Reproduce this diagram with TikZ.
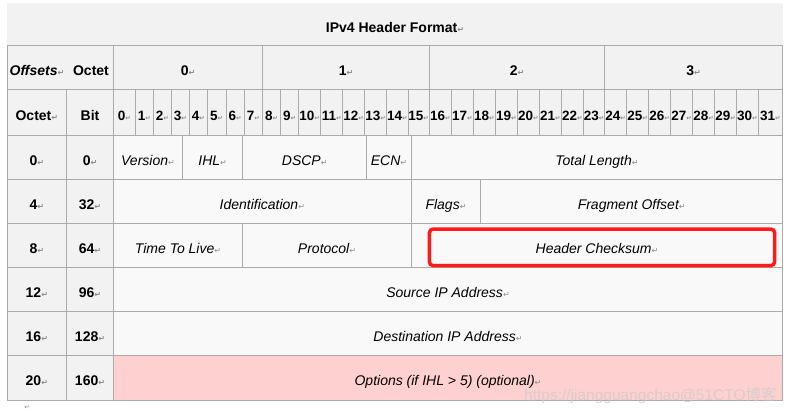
\documentclass[tikz,border=0pt]{standalone}
\usepackage{fontspec}
\setmainfont{Liberation Sans}
\newfontfamily\dvs{DejaVu Sans}
\newfontfamily\cjkf{Noto Sans CJK SC}
\definecolor{hdrgray}{HTML}{F2F2F2}
\definecolor{cellbg}{HTML}{F9F9F9}
\definecolor{bordergray}{HTML}{ABABAB}
\definecolor{optpink}{HTML}{FFD0D0}
\definecolor{retgray}{HTML}{8A8A8A}
\definecolor{hlred}{HTML}{FF1A1A}
\newcommand\rtn{{\dvs\fontsize{8}{8}\selectfont\color{retgray}↵}}
\newcommand\srtn{{\dvs\fontsize{6.5}{6.5}\selectfont\color{retgray}↵}}
\tikzset{
  hdrcell/.style={fill=hdrgray, draw=bordergray, line width=1pt},
  datcell/.style={fill=cellbg, draw=bordergray, line width=1pt},
  optcell/.style={fill=optpink, draw=bordergray, line width=1pt},
  txt/.style={anchor=base, inner sep=0pt, font=\fontsize{14}{16}\selectfont},
  htxt/.style={txt, font=\fontsize{14}{16}\selectfont\bfseries},
  btxt/.style={txt, font=\fontsize{13.5}{16}\selectfont\bfseries},
  itxt/.style={txt, font=\fontsize{14}{16}\selectfont\itshape},
  hilite/.style={draw=hlred, line width=3.5pt, rounded corners=4pt}
}
% #1 name, #2 x1, #3 y1, #4 x2, #5 y2, #6 cell style, #7 text style, #8 text
\newcommand\fcell[8]{%
  \draw[#6] (#2,#3) rectangle (#4,#5);
  \node[#7] (#1) at ({(#2+#4)/2},{(#3+#5)/2+8}) {#8};}
\begin{document}
\begin{tikzpicture}[x=1pt,y=-1pt]
\useasboundingbox (0,0) rectangle (796,412);
\fill[white] (0,0) rectangle (796,412);
% title
\fill[hdrgray] (7,3) rectangle (782.7,46);
\node[htxt] (title) at (395,32.5) {IPv4 Header Format\rtn};
% octet header row
\draw[hdrcell] (7,46) rectangle (113.3,90);
\node[txt, font=\fontsize{14}{16}\selectfont\bfseries\itshape] (offs) at (37,75.7) {Offsets\rtn};
\node[htxt] (octA) at (91,75.7) {Octet};
\fcell{oc0}{113.3}{46}{262.7}{90}{hdrcell}{htxt}{0\rtn}
\fcell{oc1}{262.7}{46}{429.3}{90}{hdrcell}{htxt}{1\rtn}
\fcell{oc2}{429.3}{46}{604.7}{90}{hdrcell}{htxt}{2\rtn}
\fcell{oc3}{604.7}{46}{782.7}{90}{hdrcell}{htxt}{3\rtn}
% bit row
\fcell{octB}{7}{90}{66.7}{135}{hdrcell}{htxt}{Octet\rtn}
\fcell{bitH}{66.7}{90}{113.3}{135}{hdrcell}{htxt}{Bit}
\foreach \n/\a/\b in {0/113.3/135.3,1/135.3/153.3,2/153.3/171.3,3/171.3/189.3,
  4/189.3/207.3,5/207.3/226,6/226/244,7/244/262.7,8/262.7/280.7,9/280.7/298.7,
  10/298.7/320.7,11/320.7/342.7,12/342.7/364.7,13/364.7/386.7,14/386.7/408,
  15/408/429.3,16/429.3/451.3,17/451.3/473.3,18/473.3/495.3,19/495.3/517.3,
  20/517.3/539.3,21/539.3/561.3,22/561.3/583.3,23/583.3/604.7,24/604.7/626.7,
  25/626.7/648.7,26/648.7/670.7,27/670.7/692.7,28/692.7/714.7,29/714.7/736.7,
  30/736.7/758,31/758/782.7}{
  \fcell{bit\n}{\a}{90}{\b}{135}{hdrcell}{btxt}{\n\srtn}
}
% row offsets
\foreach \o/\bb/\t/\u [count=\k] in {0/0/135/179,4/32/179/223,8/64/223/267,
  12/96/267/311,16/128/311/355,20/160/355/400}{
  \fcell{ro\k}{7}{\t}{66.7}{\u}{hdrcell}{htxt}{\o\rtn}
  \fcell{rb\k}{66.7}{\t}{113.3}{\u}{hdrcell}{htxt}{\bb\rtn}
}
% row 0
\fcell{version}{113.3}{135}{182.7}{179}{datcell}{itxt}{Version\rtn}
\fcell{ihl}{182.7}{135}{242.7}{179}{datcell}{itxt}{IHL\rtn}
\fcell{dscp}{242.7}{135}{366.7}{179}{datcell}{itxt}{DSCP\rtn}
\fcell{ecn}{366.7}{135}{411.3}{179}{datcell}{itxt}{ECN\rtn}
\fcell{totlen}{411.3}{135}{782.7}{179}{datcell}{itxt}{Total Length\rtn}
% row 4
\fcell{ident}{113.3}{179}{411.3}{223}{datcell}{itxt}{Identification\rtn}
\fcell{flags}{411.3}{179}{480.7}{223}{datcell}{itxt}{Flags\rtn}
\fcell{fragoff}{480.7}{179}{782.7}{223}{datcell}{itxt}{Fragment Offset\rtn}
% row 8
\fcell{ttl}{113.3}{223}{242.7}{267}{datcell}{itxt}{Time To Live\rtn}
\fcell{proto}{242.7}{223}{411.3}{267}{datcell}{itxt}{Protocol\rtn}
\fcell{hcs}{411.3}{223}{782.7}{267}{datcell}{itxt}{Header Checksum\rtn}
% rows 12, 16, 20
\fcell{srcip}{113.3}{267}{782.7}{311}{datcell}{itxt}{Source IP Address\rtn}
\fcell{dstip}{113.3}{311}{782.7}{355}{datcell}{itxt}{Destination IP Address\rtn}
\fcell{opts}{113.3}{355}{782.7}{400}{optcell}{itxt}{Options (if IHL {>} 5) (optional)\rtn}
% highlight
\draw[hilite] (429.3,229) rectangle (774.7,265.7);
% trailing paragraph mark
\node[txt] (endmark) at (27,409.5) {\srtn};
% watermark
\node[anchor=base west, inner sep=0pt, text=gray!40, opacity=0.75,
  font=\fontsize{15.5}{16}\selectfont] (wm) at (524,400)
  {https://jiangguangchao@51CTO{\cjkf 博客}};
\end{tikzpicture}
\end{document}
